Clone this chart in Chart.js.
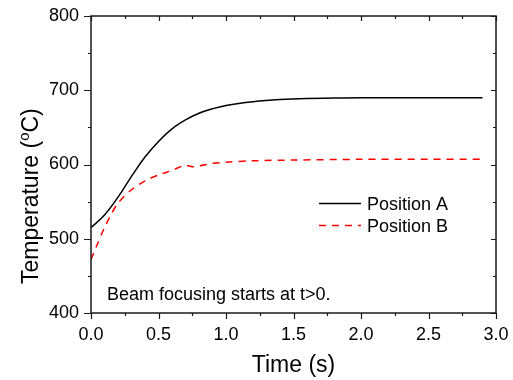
<!DOCTYPE html>
<html>
<head>
<meta charset="utf-8">
<script src="https://cdn.jsdelivr.net/npm/chart.js@4.4.1/dist/chart.umd.min.js"></script>
<style>
  body { margin: 0; background: #fff; }
  #wrap { width: 513px; height: 380px; }
</style>
</head>
<body>
<div id="wrap"><canvas id="cvs_temperatura" width="513" height="380"></canvas></div>
<script>
// Dados
const tempoA = [0, 0.1, 0.2, 0.3, 0.4, 0.5, 0.6, 0.7, 0.8, 0.9, 1.0, 1.2, 1.4, 1.6, 1.8, 2.0, 2.5, 2.9];
const posicaoA = [515, 532, 556, 584, 610, 631, 648, 660, 669, 675, 679.5, 684.5, 687.5, 689, 689.5, 690, 690, 690];

const tempoB = [0, 0.05, 0.1, 0.15, 0.2, 0.3, 0.4, 0.5, 0.55, 0.6, 0.65, 0.7, 0.75, 0.8, 0.9, 1.0, 1.2, 1.5, 2.0, 2.5, 2.9];
const posicaoB = [472, 494, 515, 533, 548, 566, 578, 586, 589, 592, 596, 599, 597, 598, 601.5, 603, 605, 606, 607, 607, 607];

const nomesSeries = ["Position A", "Position B"];

const ticksX = [0, 0.5, 1.0, 1.5, 2.0, 2.5, 3.0];
const ticksXMenores = [0.25, 0.75, 1.25, 1.75, 2.25, 2.75];
const ticksY = [400, 500, 600, 700, 800];
const ticksYMenores = [450, 550, 650, 750];

const nota = "Beam focusing starts at t>0.";
const fonte = "'Liberation Sans', Arial, sans-serif";

function pontos(xs, ys) {
  return xs.map(function (x, i) { return { x: x, y: ys[i] }; });
}

// Moldura, ticks, legenda, nota e título do eixo Y
const extras = {
  id: "extras",
  afterDraw(chart) {
    const ctx = chart.ctx;
    const a = chart.chartArea;
    const sx = chart.scales.x;
    const sy = chart.scales.y;
    ctx.save();
    ctx.strokeStyle = "#1a1a1a";
    ctx.lineWidth = 1.5;
    ctx.strokeRect(a.left, a.top, a.right - a.left, a.bottom - a.top);

    ctx.lineWidth = 1.2;
    ctx.beginPath();
    function tickX(v, fora, dentro) {
      const px = Math.round(sx.getPixelForValue(v)) + 0.5;
      ctx.moveTo(px, a.bottom); ctx.lineTo(px, a.bottom + fora);
      ctx.moveTo(px, a.top); ctx.lineTo(px, a.top + dentro);
    }
    function tickY(v, fora, dentro) {
      const py = Math.round(sy.getPixelForValue(v)) + 0.5;
      ctx.moveTo(a.left, py); ctx.lineTo(a.left - fora, py);
      ctx.moveTo(a.right, py); ctx.lineTo(a.right - dentro, py);
    }
    ticksX.forEach(function (v) { tickX(v, 6, 5); });
    ticksXMenores.forEach(function (v) { tickX(v, 3, 3); });
    ticksY.forEach(function (v) { tickY(v, 7, 5); });
    ticksYMenores.forEach(function (v) { tickY(v, 3, 3); });
    ctx.stroke();

    // legenda
    ctx.font = "18px " + fonte;
    ctx.fillStyle = "#000";
    ctx.textBaseline = "alphabetic";
    ctx.textAlign = "left";
    const ds = chart.data.datasets;
    const linhasY = [203, 225];
    for (let i = 0; i < ds.length; i++) {
      ctx.beginPath();
      ctx.strokeStyle = ds[i].borderColor;
      ctx.lineWidth = 1.5;
      ctx.setLineDash(ds[i].borderDash || []);
      ctx.moveTo(319, linhasY[i] + 0.5);
      ctx.lineTo(361, linhasY[i] + 0.5);
      ctx.stroke();
      ctx.setLineDash([]);
      ctx.fillText(ds[i].label, 367, linhasY[i] + 6.5);
    }

    // nota
    ctx.fillText(nota, 107, 300);

    // título do eixo Y com o sobrescrito
    ctx.translate(38, 284);
    ctx.rotate(-Math.PI / 2);
    ctx.font = "23px " + fonte;
    let x = 0;
    ctx.fillText("Temperature (", x, 0);
    x += ctx.measureText("Temperature (").width;
    ctx.font = "15px " + fonte;
    ctx.fillText("o", x, -9);
    x += ctx.measureText("o").width;
    ctx.font = "23px " + fonte;
    ctx.fillText("C)", x, 0);
    ctx.restore();
  },
};

new Chart(document.getElementById("cvs_temperatura"), {
  type: "line",
  data: {
    datasets: [
      {
        label: nomesSeries[0],
        data: pontos(tempoA, posicaoA),
        borderColor: "#000000",
        borderWidth: 1.5,
        pointRadius: 0,
        tension: 0.4,
      },
      {
        label: nomesSeries[1],
        data: pontos(tempoB, posicaoB),
        borderColor: "#ff0000",
        borderWidth: 1.5,
        borderDash: [7, 6],
        pointRadius: 0,
        tension: 0.3,
      },
    ],
  },
  options: {
    responsive: false,
    devicePixelRatio: 1,
    animation: false,
    layout: { padding: { left: 0, top: 16, right: 17, bottom: 0 } },
    plugins: {
      legend: { display: false },
      tooltip: { enabled: false },
    },
    scales: {
      x: {
        type: "linear",
        min: 0,
        max: 3,
        afterBuildTicks: function (scale) {
          scale.ticks = ticksX.map(function (v) { return { value: v }; });
        },
        afterFit: function (scale) {
          scale.height = 67;
          scale.paddingLeft = 0;
          scale.paddingRight = 0;
        },
        grid: { display: false },
        border: { display: false },
        ticks: {
          color: "#000",
          font: { size: 18, family: fonte },
          padding: 3,
          maxRotation: 0,
          callback: function (v) { return v.toFixed(1); },
        },
        title: {
          display: true,
          text: "Time (s)",
          color: "#000",
          font: { size: 23, family: fonte },
          padding: { top: 0, bottom: 1 },
        },
      },
      y: {
        min: 400,
        max: 800,
        afterBuildTicks: function (scale) {
          scale.ticks = ticksY.map(function (v) { return { value: v }; });
        },
        afterFit: function (scale) {
          scale.width = 91;
          scale.paddingTop = 0;
          scale.paddingBottom = 0;
        },
        grid: { display: false },
        border: { display: false },
        ticks: {
          color: "#000",
          font: { size: 18, family: fonte },
          padding: 4,
        },
      },
    },
  },
  plugins: [extras],
});
</script>
</body>
</html>
